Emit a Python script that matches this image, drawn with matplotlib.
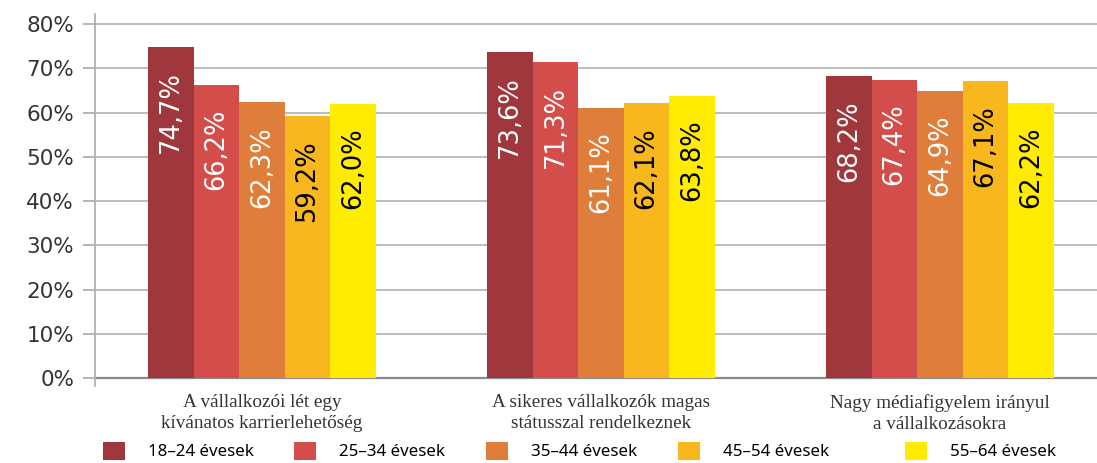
import matplotlib
matplotlib.use("Agg")
import matplotlib.pyplot as plt
import numpy as np

categories = ["A vállalkozói lét egy\nkívánatos karrierlehetőség",
              "A sikeres vállalkozók magas\nstátusszal rendelkeznek",
              "Nagy médiafigyelem irányul\na vállalkozásokra"]
series_names = ["18–24 évesek", "25–34 évesek", "35–44 évesek", "45–54 évesek", "55–64 évesek"]
values = {
    "18–24 évesek": [74.7, 73.6, 68.2],
    "25–34 évesek": [66.2, 71.3, 67.4],
    "35–44 évesek": [62.3, 61.1, 64.9],
    "45–54 évesek": [59.2, 62.1, 67.1],
    "55–64 évesek": [62.0, 63.8, 62.2],
}
yticks = [0, 10, 20, 30, 40, 50, 60, 70, 80]

colors = ["#A0373C", "#D34E4A", "#DE7E3A", "#F8B61F", "#FFEC00"]
label_colors = ["white", "white", "white", "black", "black"]

W, H = 1097, 463
fig = plt.figure(figsize=(W / 100, H / 100), dpi=100)
ax = fig.add_axes([95 / W, 1 - 386 / H, (W - 95) / W, (386 - 14) / H])

x = np.arange(len(categories))
bw = 0.134
handles = []
for i, name in enumerate(series_names):
    pos = x + (i - 2) * bw
    bars = ax.bar(pos, values[name], width=bw, color=colors[i], label=name, zorder=3)
    handles.append(bars)
    for xp, v in zip(pos, values[name]):
        ax.annotate(f"{v:.1f}%".replace(".", ","), (xp, v), xytext=(0, -24),
                    textcoords="offset pixels", rotation=90, ha="center", va="top",
                    color=label_colors[i], fontsize=18.5, family="DejaVu Sans", zorder=4)

ax.set_xlim((95 - 262) / 339, (W - 262) / 339)
ax.set_ylim(-8 / 4.425, (378 - 14) / 4.425)
ax.set_yticks(yticks)
ax.set_yticklabels([f"{t}%" for t in yticks], fontsize=15.5, family="DejaVu Sans", color="#333333")
ax.tick_params(axis="y", length=9, color="#b0b0b0", width=1.3, pad=6)
ax.set_xticks([])
for t in yticks[1:]:
    ax.axhline(t, color="#b8b8b8", lw=1.3, zorder=1)
ax.axhline(0, color="#8a8a8a", lw=1.6, zorder=2)
for s in ["top", "right", "bottom"]:
    ax.spines[s].set_visible(False)
ax.spines["left"].set_color("#b0b0b0")
ax.spines["left"].set_linewidth(1.3)

for xi, cat in zip(x, categories):
    ax.text(xi, -3.6, cat, transform=ax.transData, ha="center", va="top",
            fontsize=13.8, family="Liberation Serif", color="#333333", linespacing=1.3)

leg_kw = dict(loc="center left", frameon=False,
              prop={"family": "Noto Sans", "size": 12.2, "weight": "medium"},
              handlelength=1.3, handleheight=1.3, handletextpad=1.35,
              columnspacing=2.4, borderpad=0, borderaxespad=0)
leg1 = fig.legend(handles=handles[:4], labels=series_names[:4], ncol=4,
                  bbox_to_anchor=(103 / W, 1 - 451 / H), **leg_kw)
leg2 = fig.legend(handles=handles[4:], labels=series_names[4:], ncol=1,
                  bbox_to_anchor=(905 / W, 1 - 451 / H), **leg_kw)

fig.savefig("out.png", dpi=100)
